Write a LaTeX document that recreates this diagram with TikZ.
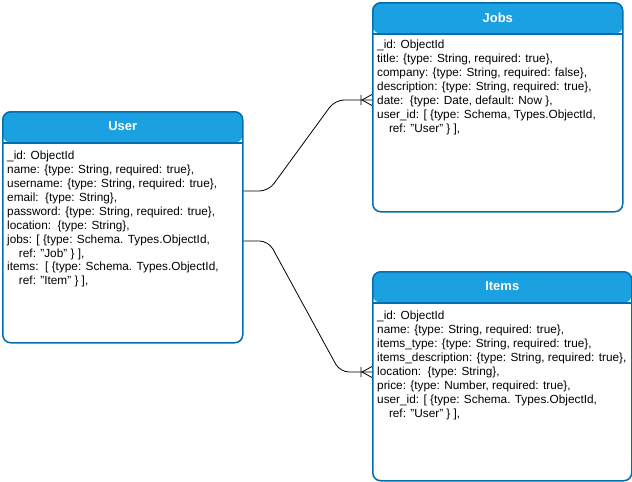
\documentclass[tikz,border=0pt]{standalone}
\usepackage{fontspec}
\setmainfont{Liberation Sans}
\usetikzlibrary{positioning,calc}
\definecolor{hdrblue}{HTML}{1BA1E2}
\definecolor{edgeblue}{HTML}{006EAF}

% crow's foot (one or many) ending at a box side
\newcommand{\crowfoot}[1]{%
  \draw[conn] ([xshift=-11pt,yshift=-5pt]#1) -- ([xshift=-11pt,yshift=5pt]#1)
    ([xshift=-10pt]#1) -- ([yshift=5.5pt]#1)
    ([xshift=-10pt]#1) -- ([yshift=-5.5pt]#1);}
\newcommand{\qq}[1]{\symbol{"22}#1\symbol{"22}}

\begin{document}
\begin{tikzpicture}[x=1pt,y=-1pt,
		entity/.style={draw=edgeblue, line width=1.5pt, rounded corners=8pt, fill=white,
			inner sep=0pt, anchor=north west,
			path picture={
				\fill[hdrblue] (path picture bounding box.north west) rectangle ([yshift=-31pt]path picture bounding box.north east);
				\draw[edgeblue, line width=1.5pt] ([yshift=-31pt]path picture bounding box.north west) -- ([yshift=-31pt]path picture bounding box.north east);
			}},
		title/.style={text=white, font=\bfseries\fontsize{13}{15}\selectfont},
		body/.style={anchor=north west, inner sep=0pt, align=left, font=\fontsize{11.8}{13.9}\selectfont},
		conn/.style={draw=black, line width=0.8pt},
	]
		\useasboundingbox (0,0) rectangle (632,482);

		\node (user) [entity, minimum width=240pt, minimum height=231pt] at (2,111) {};
		\node (jobs) [entity, minimum width=250pt, minimum height=209pt] at (372,2) {};
		\node (items) [entity, minimum width=259pt, minimum height=209pt] at (372,271) {};

		\node (usertitle) [title] at ([yshift=-15.5pt]user.north) {User};
		\node (jobstitle) [title] at ([yshift=-15.5pt]jobs.north) {Jobs};
		\node (itemstitle) [title] at ([yshift=-15.5pt]items.north) {Items};

		\node (userbody) [body] at ([xshift=5pt,yshift=-40pt]user.north west) {%
			\_id: ObjectId\\
			name: \{type: String, required: true\},\\
			username: \{type: String, required: true\},\\
			email:\ \ \{type: String\},\\
			password: \{type: String, required: true\},\\
			location:\ \ \{type: String\},\\
			jobs: [ \{type: Schema. Types.ObjectId,\\
			\hspace*{1em}ref: \qq{Job} \} ],\\
			items:\ \ [ \{type: Schema. Types.ObjectId,\\
			\hspace*{1em}ref: \qq{Item} \} ],};
		\node (jobsbody) [body] at ([xshift=5pt,yshift=-38pt]jobs.north west) {%
			\_id: ObjectId\\
			title: \{type: String, required: true\},\\
			company: \{type: String, required: false\},\\
			description: \{type: String, required: true\},\\
			date:\ \ \{type: Date, default: Now \},\\
			user\_id: [ \{type: Schema, Types.ObjectId,\\
			\hspace*{1em}ref: \qq{User} \} ],};
		\node (itemsbody) [body] at ([xshift=5pt,yshift=-40pt]items.north west) {%
			\_id: ObjectId\\
			name: \{type: String, required: true\},\\
			items\_type: \{type: String, required: true\},\\
			items\_description: \{type: String, required: true\},\\
			location:\ \ \{type: String\},\\
			price: \{type: Number, required: true\},\\
			user\_id: [ \{type: Schema. Types.ObjectId,\\
			\hspace*{1em}ref: \qq{User} \} ],};

		\coordinate (ujob) at (user.east |- 0,191);
		\coordinate (uitem) at (user.east |- 0,241);
		\coordinate (jin) at (jobs.west |- 0,100);
		\coordinate (iin) at (items.west |- 0,372);

		\draw[conn, rounded corners=9pt] (ujob) -- ++(25,0) -- ([xshift=-37pt]jin) -- (jin);
		\draw[conn, rounded corners=9pt] (uitem) -- ++(25,0) -- ([xshift=-32pt]iin) -- (iin);
		\crowfoot{jin}
		\crowfoot{iin}
	\end{tikzpicture}
\end{document}
